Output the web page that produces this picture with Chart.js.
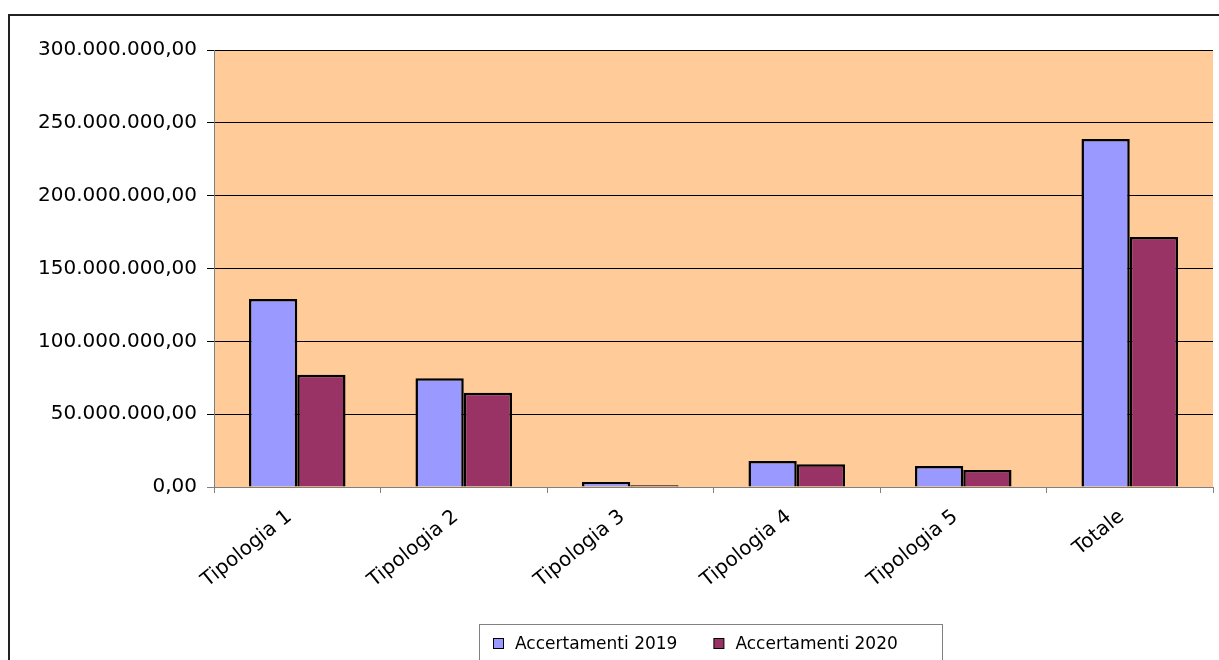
<!DOCTYPE html>
<html>
<head>
<meta charset="utf-8">
<title>Accertamenti</title>
<script src="https://cdn.jsdelivr.net/npm/chart.js@4.4.0/dist/chart.umd.min.js"></script>
<style>
  html, body { margin: 0; padding: 0; background: #fff; }
  canvas { display: block; }
</style>
</head>
<body>
<canvas id="chart" width="1219" height="660"></canvas>
<script>
// categorie e valori (euro)
const categories = ['Tipologia 1', 'Tipologia 2', 'Tipologia 3', 'Tipologia 4', 'Tipologia 5', 'Totale'];
const seriesNames = ['Accertamenti 2019', 'Accertamenti 2020'];
const accertamenti2019 = [129000000, 74600000, 3400000, 17800000, 14400000, 238900000];
const accertamenti2020 = [77000000, 64700000, 1200000, 15600000, 11700000, 171600000];
const yMax = 300000000;
const yStep = 50000000;

const seriesColors = ['#9999FF', '#993366'];

// 300000000 -> "300.000.000,00"
function formatEuro(v) {
    const s = Math.round(v).toString().replace(/\B(?=(\d{3})+(?!\d))/g, '.');
    return s + ',00';
}

const tickFont = { family: 'DejaVu Sans', size: 20 };
const legendFont = '17px "DejaVu Sans"';

// cornice esterna + sfondo area del grafico
const backgroundPlugin = {
    id: 'background',
    beforeDraw(chart) {
        const ctx = chart.ctx;
        const a = chart.chartArea;
        ctx.save();
        ctx.fillStyle = '#ffffff';
        ctx.fillRect(0, 0, chart.width, chart.height);
        ctx.fillStyle = '#FFCC99';
        ctx.fillRect(a.left, a.top, a.right - a.left, a.bottom - a.top);
        ctx.strokeStyle = '#222222';
        ctx.lineWidth = 2;
        ctx.strokeRect(9, 15, chart.width + 20, chart.height + 20);
        ctx.restore();
    }
};

// legenda in basso con riquadro
const boxedLegend = {
    id: 'boxedLegend',
    afterDraw(chart) {
        const ctx = chart.ctx;
        ctx.save();
        ctx.strokeStyle = '#808080';
        ctx.lineWidth = 1;
        ctx.strokeRect(479.5, 624.5, 463, 60);
        ctx.font = legendFont;
        ctx.textBaseline = 'middle';
        let x = 493;
        chart.data.datasets.forEach((ds) => {
            ctx.fillStyle = ds.backgroundColor;
            ctx.fillRect(x + 0.5, 638.5, 10, 10);
            ctx.strokeStyle = '#000000';
            ctx.strokeRect(x + 0.5, 638.5, 10, 10);
            ctx.fillStyle = '#000000';
            ctx.fillText(ds.label, x + 22, 645);
            x += 22 + ctx.measureText(ds.label).width + 36;
        });
        ctx.restore();
    }
};

new Chart(document.getElementById('chart'), {
    type: 'bar',
    data: {
        labels: categories,
        datasets: [
            {
                label: seriesNames[0],
                data: accertamenti2019,
                backgroundColor: seriesColors[0],
                borderColor: '#000000',
                borderWidth: 2.5,
                barPercentage: 1,
                categoryPercentage: 0.58
            },
            {
                label: seriesNames[1],
                data: accertamenti2020,
                backgroundColor: seriesColors[1],
                borderColor: '#000000',
                borderWidth: 2.5,
                barPercentage: 1,
                categoryPercentage: 0.58
            }
        ]
    },
    options: {
        responsive: false,
        devicePixelRatio: 1,
        animation: false,
        layout: { padding: { left: 0, right: 6, top: 50, bottom: 0 } },
        plugins: {
            legend: { display: false },
            tooltip: { enabled: false },
            title: { display: false }
        },
        scales: {
            x: {
                grid: {
                    drawOnChartArea: false,
                    drawTicks: true,
                    tickLength: 6,
                    color: '#808080',
                    offset: true
                },
                border: { color: '#808080', width: 1 },
                ticks: {
                    minRotation: 39,
                    maxRotation: 39,
                    padding: 12,
                    labelOffset: -8,
                    color: '#000000',
                    font: tickFont
                },
                afterFit(scale) { scale.height = 173; }
            },
            y: {
                min: 0,
                max: yMax,
                grid: {
                    color: (c) => (c.tick && c.tick.value === 0 ? '#808080' : '#000000'),
                    tickLength: 7
                },
                border: { color: '#808080', width: 1 },
                ticks: {
                    stepSize: yStep,
                    padding: 10,
                    color: '#000000',
                    font: tickFont,
                    callback: (v) => formatEuro(v)
                },
                afterFit(scale) { scale.width = 214; }
            }
        }
    },
    plugins: [backgroundPlugin, boxedLegend]
});
</script>
</body>
</html>
